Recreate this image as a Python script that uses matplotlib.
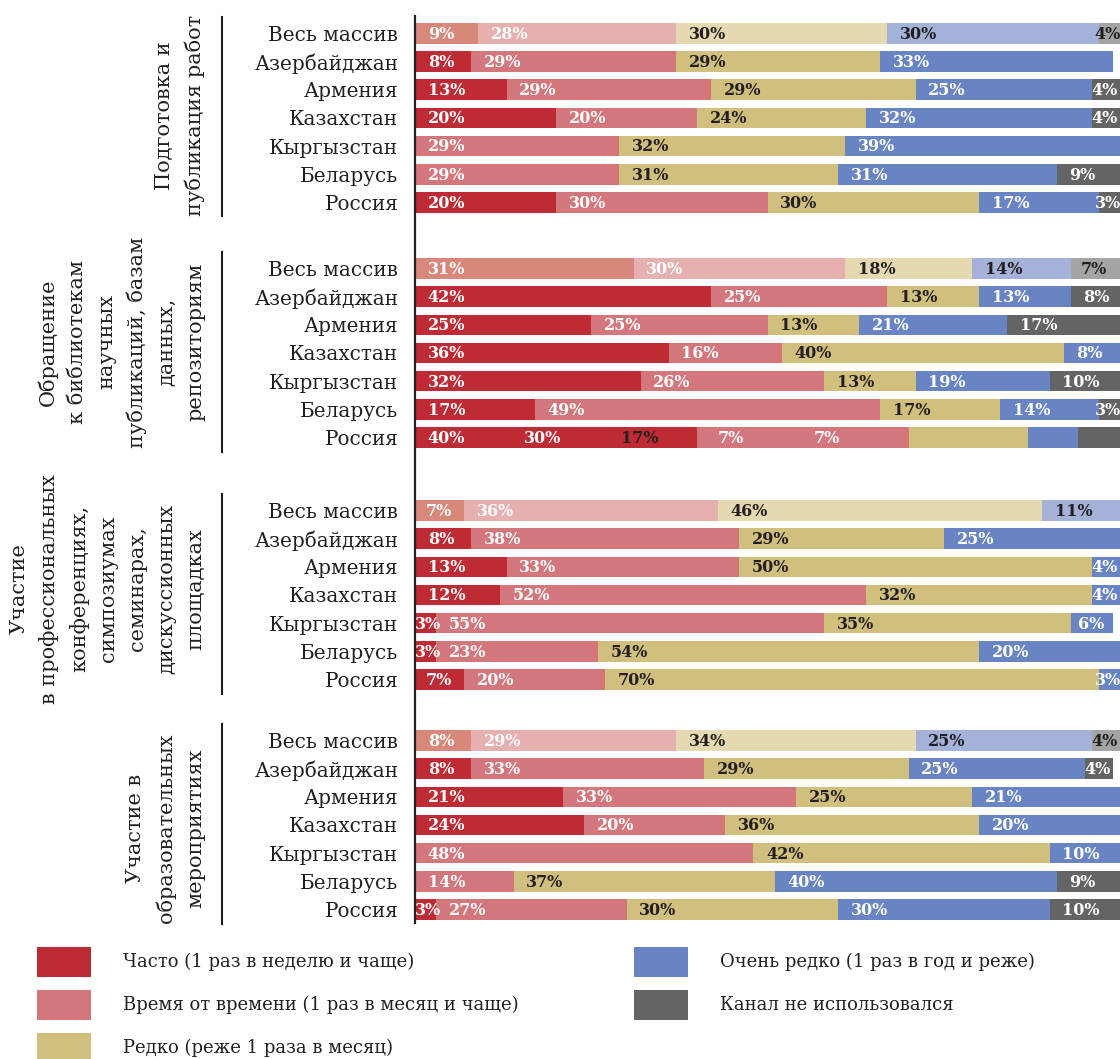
import numpy as np
import matplotlib
matplotlib.use('Agg')
import matplotlib.pyplot as plt
from matplotlib.patches import Rectangle
from matplotlib.lines import Line2D

plt.rcParams['font.family'] = ['DejaVu Serif']

# --- data ---
countries = ['Весь массив', 'Азербайджан', 'Армения', 'Казахстан',
             'Кыргызстан', 'Беларусь', 'Россия']
categories = ['Часто (1 раз в неделю и чаще)',
              'Время от времени (1 раз в месяц и чаще)',
              'Редко (реже 1 раза в месяц)',
              'Очень редко (1 раз в год и реже)',
              'Канал не использовался']
group_titles = ['Подготовка и\nпубликация работ',
                'Обращение\nк библиотекам\nнаучных\nпубликаций, базам\nданных,\nрепозиториям',
                'Участие\nв профессиональных\nконференциях,\nсимпозиумах\nсеминарах,\nдискуссионных\nплощадках',
                'Участие в\nобразовательных\nмероприятиях']

# rows follow the order of `countries`
prep_often = [9, 8, 13, 20, 0, 0, 20]
prep_sometimes = [28, 29, 29, 20, 29, 29, 30]
prep_rarely = [30, 29, 29, 24, 32, 31, 30]
prep_very_rarely = [30, 33, 25, 32, 39, 31, 17]
prep_unused = [4, 0, 4, 4, 0, 9, 3]

lib_often = [31, 42, 25, 36, 32, 17, 40]
lib_sometimes = [30, 25, 25, 16, 26, 49, 30]
lib_rarely = [18, 13, 13, 40, 13, 17, 17]
lib_very_rarely = [14, 13, 21, 8, 19, 14, 7]
lib_unused = [7, 8, 17, 0, 10, 3, 7]

conf_often = [7, 8, 13, 12, 3, 3, 7]
conf_sometimes = [36, 38, 33, 52, 55, 23, 20]
conf_rarely = [46, 29, 50, 32, 35, 54, 70]
conf_very_rarely = [11, 25, 4, 4, 6, 20, 3]
conf_unused = [0, 0, 0, 0, 0, 0, 0]

edu_often = [8, 8, 21, 24, 0, 0, 3]
edu_sometimes = [29, 33, 33, 20, 48, 14, 27]
edu_rarely = [34, 29, 25, 36, 42, 37, 30]
edu_very_rarely = [25, 25, 21, 20, 10, 40, 30]
edu_unused = [4, 4, 0, 0, 0, 9, 10]

groups = [
    [prep_often, prep_sometimes, prep_rarely, prep_very_rarely, prep_unused],
    [lib_often, lib_sometimes, lib_rarely, lib_very_rarely, lib_unused],
    [conf_often, conf_sometimes, conf_rarely, conf_very_rarely, conf_unused],
    [edu_often, edu_sometimes, edu_rarely, edu_very_rarely, edu_unused],
]

# in the source the labels of the last "library" row are spread evenly, not over their bars
lib_russia_label_starts = [0, 13.7, 27.4, 41.1, 54.8]

# --- style ---
colors = ['#be2b35', '#d4777c', '#d0bf7d', '#6884c3', '#646464']
colors_light = ['#d8887a', '#e6b0b0', '#e4d9b0', '#a4b2da', '#a4a4a4']
dark = '#231f20'

W, H = 1120, 1059
fig = plt.figure(figsize=(W / 100, H / 100), dpi=100)


def fx(px):
    return px / W


def fy(py):
    return 1 - py / H


row_pitch = 28.17
group_tops = [19.3, 254.4, 496.4, 726.4]
title_shift = [2, 11, 6, -3]  # px upward
x_axis = 415


def label_x(start, width, txt):
    tw = 2.0 * len(txt)
    pad = min(1.8, (width - tw) / 2)
    # keep the label inside the plot on both sides
    return max(0, min(start + pad, 100 - 1.8 * len(txt)))


for gi, series in enumerate(groups):
    top = group_tops[gi]
    bottom = top + 7 * row_pitch
    ax = fig.add_axes([fx(x_axis), fy(bottom), 1 - fx(x_axis), (bottom - top) / H])
    ax.set_xlim(0, 100)
    ax.set_ylim(6.5, -0.5)
    y = np.arange(len(countries))
    left = np.zeros(len(countries))
    for ci, vals in enumerate(series):
        vals = np.array(vals, dtype=float)
        cols = [colors_light[ci] if r == 0 else colors[ci] for r in y]
        ax.barh(y, vals, left=left, height=0.73, color=cols, linewidth=0)
        for r in y:
            if vals[r] <= 0:
                continue
            txt = '%d%%' % vals[r]
            if r == 0:
                tc = 'white' if ci < 2 else dark
            else:
                tc = dark if ci == 2 else 'white'
            if gi == 1 and r == 6:
                xt = lib_russia_label_starts[ci] + 1.8
            else:
                xt = label_x(left[r], vals[r], txt)
            ax.text(xt, r + 0.03, txt, ha='left', va='center', fontsize=11.5,
                    fontweight='bold', color=tc, clip_on=True)
        left += vals
    ax.set_yticks(y)
    ax.set_yticklabels(countries, fontsize=14.4, color=dark)
    ax.tick_params(axis='y', length=0, pad=12)
    ax.set_xticks([])
    for s in ax.spines.values():
        s.set_visible(False)

    # group separator and title
    fig.add_artist(Line2D([fx(222), fx(222)], [fy(top - 2), fy(bottom)],
                          color=dark, lw=1.5))
    fig.text(fx(205), fy((top + bottom) / 2 - title_shift[gi]), group_titles[gi],
             rotation=90, ha='right', va='center', multialignment='center',
             fontsize=15, color=dark, linespacing=1.66)

# main vertical axis line
fig.add_artist(Line2D([fx(x_axis), fx(x_axis)], [fy(16), fy(923)], color=dark, lw=1.6))

# --- legend ---
leg_pos = [(37, 947), (37, 990), (37, 1033), (634, 947), (634, 990)]
for ci, (lx, ly) in enumerate(leg_pos):
    fig.add_artist(Rectangle((fx(lx), fy(ly + 30)), 54 / W, 30 / H,
                             facecolor=colors[ci], edgecolor='none',
                             transform=fig.transFigure))
    fig.text(fx(lx + 86), fy(ly + 15), categories[ci], ha='left', va='center',
             fontsize=13, color=dark)

fig.savefig('out.png', dpi=100)
